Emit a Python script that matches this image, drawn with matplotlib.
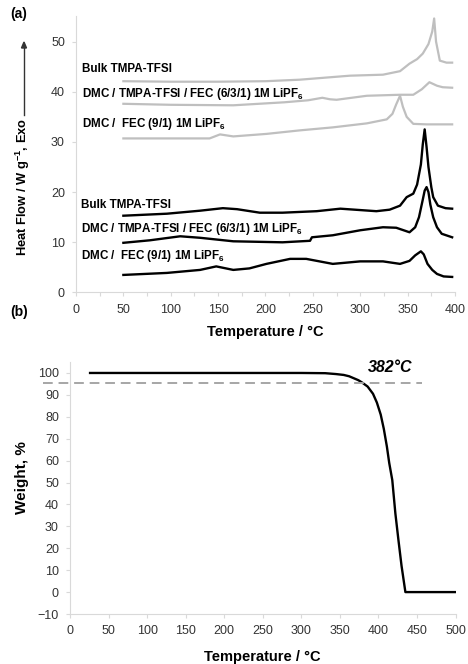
import numpy as np
import matplotlib.pyplot as plt

plt.rcParams['font.family'] = ['Liberation Sans', 'DejaVu Sans']
plt.rcParams['mathtext.fontset'] = 'custom'
plt.rcParams['mathtext.rm'] = 'Liberation Sans'
plt.rcParams['mathtext.bf'] = 'Liberation Sans:bold'
plt.rcParams['mathtext.it'] = 'Liberation Sans:italic'

# (a) DSC curves, gray = upper set, black = lower set
t_bulk_g = [50, 100, 150, 200, 236, 289, 324, 342, 352, 360, 366, 372, 376, 378, 380, 384, 391, 397]
hf_bulk_g = [42.1, 42.0, 42.0, 42.1, 42.4, 43.2, 43.4, 44.1, 45.6, 46.5, 47.6, 49.5, 52.0, 54.6, 50.0, 46.2, 45.8, 45.8]

t_mix_g = [50, 100, 166, 220, 245, 254, 260, 268, 275, 307, 342, 356, 365, 373, 381, 387, 397]
hf_mix_g = [37.6, 37.4, 37.3, 37.9, 38.3, 38.6, 38.8, 38.5, 38.4, 39.2, 39.4, 39.4, 40.5, 41.9, 41.2, 40.9, 40.8]

t_dmc_g = [50, 141, 152, 166, 201, 236, 271, 307, 328, 334, 338, 342, 345, 349, 356, 370, 397]
hf_dmc_g = [30.7, 30.7, 31.5, 31.1, 31.6, 32.3, 32.9, 33.7, 34.5, 35.6, 37.5, 39.2, 37.0, 35.0, 33.6, 33.5, 33.5]

t_bulk_k = [50, 96, 131, 155, 170, 194, 218, 254, 279, 317, 331, 342, 349, 356, 360, 364, 366, 368, 370, 372, 375, 377, 382, 390, 397]
hf_bulk_k = [15.3, 15.7, 16.3, 16.8, 16.6, 15.9, 15.9, 16.2, 16.7, 16.2, 16.5, 17.3, 19.0, 19.7, 21.5, 25.5, 29.5, 32.5, 29.0, 25.0, 21.0, 19.0, 17.3, 16.8, 16.7]

t_mix_k = [50, 78, 110, 131, 166, 218, 247, 249, 271, 300, 324, 338, 352, 358, 362, 366, 368, 370, 372, 374, 377, 381, 386, 397]
hf_mix_k = [9.9, 10.4, 11.2, 10.9, 10.2, 10.0, 10.3, 11.0, 11.4, 12.4, 13.0, 12.9, 12.0, 13.0, 15.0, 18.5, 20.3, 21.0, 20.0, 17.5, 15.0, 13.0, 11.7, 11.0]

t_dmc_k = [50, 96, 131, 148, 166, 183, 201, 226, 243, 271, 300, 324, 342, 352, 358, 364, 367, 371, 376, 381, 388, 397]
hf_dmc_k = [3.5, 3.9, 4.5, 5.2, 4.5, 4.8, 5.7, 6.7, 6.7, 5.7, 6.2, 6.2, 5.7, 6.3, 7.4, 8.2, 7.6, 5.7, 4.5, 3.7, 3.2, 3.1]

labels = ["Bulk TMPA-TFSI",
          r"DMC / TMPA-TFSI / FEC (6/3/1) 1M LiPF$_{\mathbf{6}}$",
          r"DMC /  FEC (9/1) 1M LiPF$_{\mathbf{6}}$"]
label_y_gray = [44.6, 39.6, 33.5]
label_y_black = [17.5, 12.7, 7.2]

# (b) TGA curve
t_tga = [26, 100, 200, 300, 331, 345, 355, 362, 368, 374, 379, 386, 393, 398, 403, 407, 411, 414, 418, 422, 426, 430, 435, 450, 500]
w_tga = [100, 100, 100, 100, 99.9, 99.5, 99.1, 98.5, 97.6, 96.7, 95.6, 93.8, 90.5, 86.5, 81.0, 74.5, 66.4, 59.0, 51.1, 35.9, 23.7, 12.0, 0, 0, 0]
onset_w = 95.6

gray = '#bfbfbf'
spine = '#d9d9d9'

fig = plt.figure(figsize=(4.68, 6.64), dpi=100)

# ---- panel (a)
ax1 = fig.add_axes([0.1624, 0.5595, 0.8098, 0.4157])
for t, h in [(t_bulk_g, hf_bulk_g), (t_mix_g, hf_mix_g), (t_dmc_g, hf_dmc_g)]:
    ax1.plot(t, h, color=gray, lw=1.6)
for t, h in [(t_bulk_k, hf_bulk_k), (t_mix_k, hf_mix_k), (t_dmc_k, hf_dmc_k)]:
    ax1.plot(t, h, color='black', lw=1.7)
for lab, y in zip(labels, label_y_gray):
    ax1.text(6, y, lab, fontsize=8.4, fontweight='bold', va='center', ha='left')
for lab, y in zip(labels, label_y_black):
    ax1.text(5, y, lab, fontsize=8.4, fontweight='bold', va='center', ha='left')
ax1.set_xlim(0, 400)
ax1.set_ylim(0, 55)
ax1.set_xticks(np.arange(0, 401, 50))
ax1.set_xticks(np.arange(0, 401, 25), minor=True)
ax1.set_yticks(np.arange(0, 51, 10))
ax1.set_xlabel("Temperature / °C", fontsize=10.5, fontweight='bold', labelpad=7)

# ---- panel (b)
ax2 = fig.add_axes([0.1496, 0.0753, 0.8237, 0.3795])
ax2.plot(t_tga, w_tga, color='black', lw=1.7)
ax2.plot([-35, 457], [onset_w, onset_w], color='#a6a6a6', lw=1.4,
         linestyle=(0, (5, 3)), clip_on=False)
ax2.text(386, 102.3, "382°C", fontsize=11.5, fontweight='bold', style='italic',
         va='center', ha='left')
ax2.set_xlim(0, 500)
ax2.set_ylim(-10, 105)
ax2.set_xticks(np.arange(0, 501, 50))
ax2.set_yticks(np.arange(-10, 101, 10))
ax2.set_xlabel("Temperature / °C", fontsize=10.5, fontweight='bold', labelpad=9)

for ax in (ax1, ax2):
    for s in ('top', 'right'):
        ax.spines[s].set_visible(False)
    for s in ('left', 'bottom'):
        ax.spines[s].set_color(spine)
        ax.spines[s].set_linewidth(0.8)
    ax.tick_params(which='both', direction='out', length=3, width=0.8,
                   color=spine, labelsize=9, labelcolor='#333333', pad=5)

# y labels
fig.text(23 / 468, 1 - 187 / 664, r"Heat Flow / W g$^{\mathbf{-1}}$, Exo",
         rotation=90, fontsize=9.3, fontweight='bold', ha='center', va='center')
fig.text(22 / 468, 1 - 478 / 664, "Weight, %", rotation=90, fontsize=11,
         fontweight='bold', ha='center', va='center')

# arrow next to the heat flow label
fig.add_artist(plt.Line2D([24 / 468, 24 / 468], [1 - 115 / 664, 1 - 47 / 664],
                          color='#333333', lw=1.0))
fig.patches.append(plt.Polygon([[21.5 / 468, 1 - 48 / 664], [26.5 / 468, 1 - 48 / 664],
                                [24 / 468, 1 - 42 / 664]], closed=True,
                               color='#333333', transform=fig.transFigure))

fig.text(10 / 468, 1 - 14 / 664, "(a)", fontsize=10, fontweight='bold', va='center')
fig.text(10 / 468, 1 - 312 / 664, "(b)", fontsize=10, fontweight='bold', va='center')

fig.savefig("out.png", dpi=100)
